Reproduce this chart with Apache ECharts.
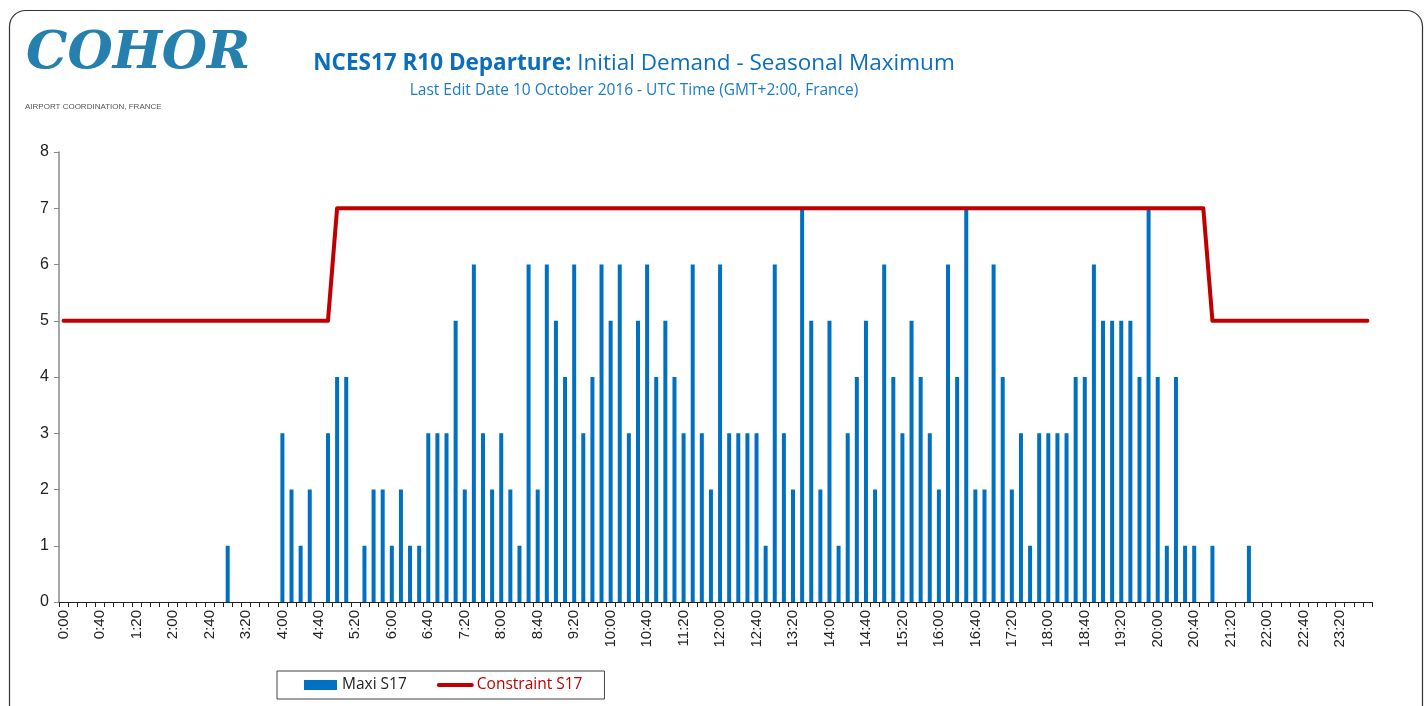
<!DOCTYPE html>
<html>
<head>
<meta charset="utf-8">
<script src="https://cdn.jsdelivr.net/npm/echarts@6/dist/echarts.min.js"></script>
<style>
html,body{margin:0;padding:0;background:#fff;}
#chart{width:1428px;height:706px;}
</style>
</head>
<body>
<div id="chart"></div>
<script>
// ---- data ----
var hours = ['0','1','2','3','4','5','6','7','8','9','10','11','12','13','14','15','16','17','18','19','20','21','22','23'];
var minutes = ['00','10','20','30','40','50'];
var timeSlots = [];
hours.forEach(function(h){ minutes.forEach(function(m){ timeSlots.push(h + ':' + m); }); });

var maxiS17 = [
  0,0,0,0,0,0,0,0, 0,0,0,0,0,0,0,0,
  0,0,1,0,0,0,0,0, 3,2,1,2,0,3,4,4,
  0,1,2,2,1,2,1,1, 3,3,3,5,2,6,3,2,
  3,2,1,6,2,6,5,4, 6,3,4,6,5,6,3,5,
  6,4,5,4,3,6,3,2, 6,3,3,3,3,1,6,3,
  2,7,5,2,5,1,3,4, 5,2,6,4,3,5,4,3,
  2,6,4,7,2,2,6,4, 2,3,1,3,3,3,3,4,
  4,6,5,5,5,5,4,7, 4,1,4,1,1,0,1,0,
  0,0,1,0,0,0,0,0, 0,0,0,0,0,0,0,0
];

var constraintS17 = [
  5,5,5,5,5,5,5,5,5,5,5,5,5,5,5,5,
  5,5,5,5,5,5,5,5,5,5,5,5,5,5,7,7,
  7,7,7,7,7,7,7,7,7,7,7,7,7,7,7,7,
  7,7,7,7,7,7,7,7,7,7,7,7,7,7,7,7,
  7,7,7,7,7,7,7,7,7,7,7,7,7,7,7,7,
  7,7,7,7,7,7,7,7,7,7,7,7,7,7,7,7,
  7,7,7,7,7,7,7,7,7,7,7,7,7,7,7,7,
  7,7,7,7,7,7,7,7,7,7,7,7,7,7,5,5,
  5,5,5,5,5,5,5,5,5,5,5,5,5,5,5,5
];

var yTicks = [0,1,2,3,4,5,6,7,8];
var titleBold = 'NCES17 R10 Departure:';
var titleRest = ' Initial Demand - Seasonal Maximum';
var subTitle = 'Last Edit Date 10 October 2016 - UTC Time (GMT+2:00, France)';
var seriesNames = ['Maxi S17', 'Constraint S17'];

// ---- chart ----
var chart = echarts.init(document.getElementById('chart'), null, {renderer:'canvas'});
var blue = '#0070C0', red = '#C00000';
var axisFont = 'Liberation Sans, Arial, sans-serif';
var titleFont = 'Open Sans, Noto Sans, sans-serif';

chart.setOption({
  animation: false,
  backgroundColor: '#fff',
  title: {
    text: '{b|' + titleBold + '}{n|' + titleRest + '}',
    subtext: subTitle,
    left: 629, textAlign: 'center',
    top: 47,
    itemGap: 8,
    textStyle: {
      rich: {
        b: {fontFamily: titleFont, fontSize: 22.5, fontWeight: 'bold', color: '#0A6EBD'},
        n: {fontFamily: titleFont, fontSize: 22.5, fontWeight: 'normal', color: '#0A6EBD'}
      }
    },
    subtextStyle: {fontFamily: titleFont, fontSize: 15.5, color: '#1A7BC9'}
  },
  graphic: [
    {type:'rect', left: 7, top: 8, shape:{width:1413, height:712, r:16}, style:{fill:'none', stroke:'#333', lineWidth:1.2}, silent:true, z:-1},
    {type:'text', left: 26, top: 28, style:{text:'COHOR', font:'italic bold 52px "DejaVu Serif", serif', fill:'#2580AD'}, silent:true},
    {type:'text', left: 25, top: 103, style:{text:'AIRPORT COORDINATION, FRANCE', font:'8px "Liberation Sans Narrow","Liberation Sans", sans-serif', fill:'#555'}, silent:true}
  ],
  legend: {
    left: 277, top: 671,
    padding: [6, 22, 6, 27],
    borderColor: '#444', borderWidth: 1,
    itemGap: 30,
    itemWidth: 33, itemHeight: 10,
    data: [
      {name: seriesNames[0], icon: 'rect', textStyle: {color: '#222'}},
      {name: seriesNames[1], itemStyle: {opacity: 0}, lineStyle: {width: 4, color: red}, textStyle: {color: red}}
    ],
    textStyle: {fontFamily: titleFont, fontSize: 15.5}
  },
  grid: {left: 59, right: 56, top: 152, bottom: 104, containLabel: false},
  xAxis: {
    type: 'category',
    data: timeSlots,
    boundaryGap: true,
    axisLine: {lineStyle: {color: '#222', width: 1}},
    axisTick: {show: true, interval: 0, length: 5, lineStyle: {color: '#222'}},
    axisLabel: {interval: 3, rotate: 90, fontFamily: axisFont, fontSize: 15, color: '#222', margin: 8},
    splitLine: {show: false}
  },
  yAxis: {
    type: 'value',
    min: yTicks[0], max: yTicks[yTicks.length - 1], interval: 1,
    axisLine: {show: true, lineStyle: {color: '#888', width: 1.5}},
    axisTick: {show: true, length: 5, lineStyle: {color: '#888'}},
    axisLabel: {fontFamily: axisFont, fontSize: 16, color: '#222', margin: 10},
    splitLine: {show: false}
  },
  series: [
    {
      name: seriesNames[0],
      type: 'bar',
      data: maxiS17,
      barWidth: 4,
      itemStyle: {color: blue}
    },
    {
      name: seriesNames[1],
      type: 'line',
      data: constraintS17,
      symbol: 'none',
      lineStyle: {color: red, width: 4, cap: 'round', join: 'round'},
      itemStyle: {color: red},
      z: 3
    }
  ]
});
</script>
</body>
</html>
